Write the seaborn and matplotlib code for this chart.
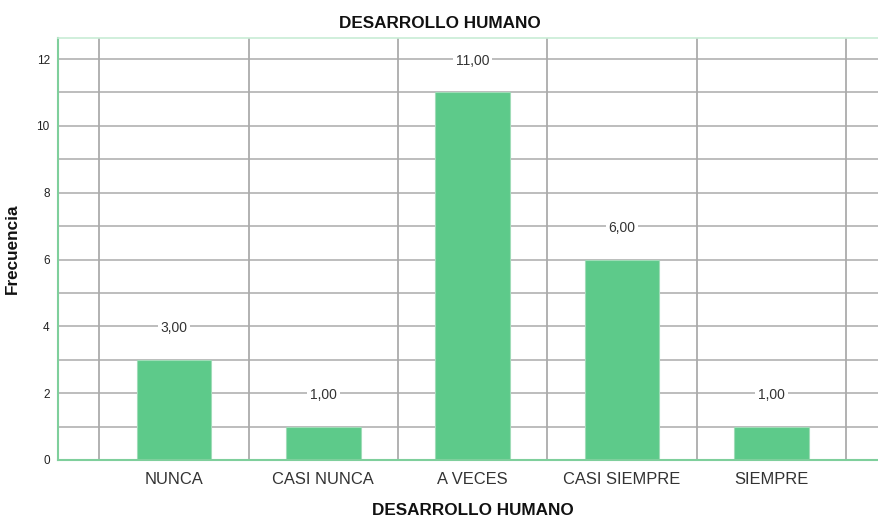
import matplotlib
matplotlib.use("Agg")
import matplotlib.pyplot as plt
import seaborn as sns
import pandas as pd

categories = ["NUNCA", "CASI NUNCA", "A VECES", "CASI SIEMPRE", "SIEMPRE"]
frecuencia = [3, 1, 11, 6, 1]
y_ticks = [0, 2, 4, 6, 8, 10, 12]

df = pd.DataFrame({"categoria": categories, "frecuencia": frecuencia})

sns.set_theme(style="white")
plt.rcParams["font.family"] = ["Liberation Sans", "DejaVu Sans"]

bar_color = "#5dca8a"
grid_color = "#ababab"
spine_color = "#7fcf9c"

fig = plt.figure(figsize=(8.79, 5.17), dpi=100)
ax = fig.add_axes([0.066, 0.1103, 0.934, 0.8162])

# grid behind the bars: every unit on y, category boundaries on x
ax.set_axisbelow(True)
for v in range(0, 13):
    ax.axhline(v, color=grid_color, lw=1.1, zorder=0)
for b in [-0.5, 0.5, 1.5, 2.5, 3.5, 4.5]:
    ax.axvline(b, color=grid_color, lw=1.3, zorder=0)

sns.barplot(data=df, x="categoria", y="frecuencia", color=bar_color,
            width=0.5, saturation=1, ax=ax, zorder=2,
            edgecolor="#9fdcb7", linewidth=0.8)

for i, v in enumerate(frecuencia):
    ax.text(i, v + 0.95, f"{v:.2f}".replace(".", ","), ha="center", va="center",
            fontsize=10, color="#333333", zorder=3,
            bbox=dict(facecolor="white", edgecolor="none", pad=2.0))

ax.set_xlim(-0.776, 4.72)
ax.set_ylim(0, 12.63)
ax.set_yticks(y_ticks)
ax.set_yticklabels([str(t) for t in y_ticks], fontsize=8.5, color="#222222")
ax.tick_params(axis="x", labelsize=11.9, colors="#333333", length=0, pad=9)
ax.tick_params(axis="y", length=0, pad=6)

for side in ["left", "bottom"]:
    ax.spines[side].set_color(spine_color)
    ax.spines[side].set_linewidth(1.5)
ax.spines["top"].set_color("#c8ecd6")
ax.spines["top"].set_linewidth(1.2)
ax.spines["right"].set_visible(False)

ax.set_title("DESARROLLO HUMANO", fontsize=12.3, fontweight="bold", pad=7,
             color="#111111", x=(440 - 58) / 821)
ax.set_xlabel("DESARROLLO HUMANO", fontsize=12.3, fontweight="bold", labelpad=11,
              color="#111111", x=(473 - 58) / 821)
ax.set_ylabel("Frecuencia", fontsize=12.3, fontweight="bold", labelpad=12, color="#111111")

fig.savefig("out.png", dpi=100)
